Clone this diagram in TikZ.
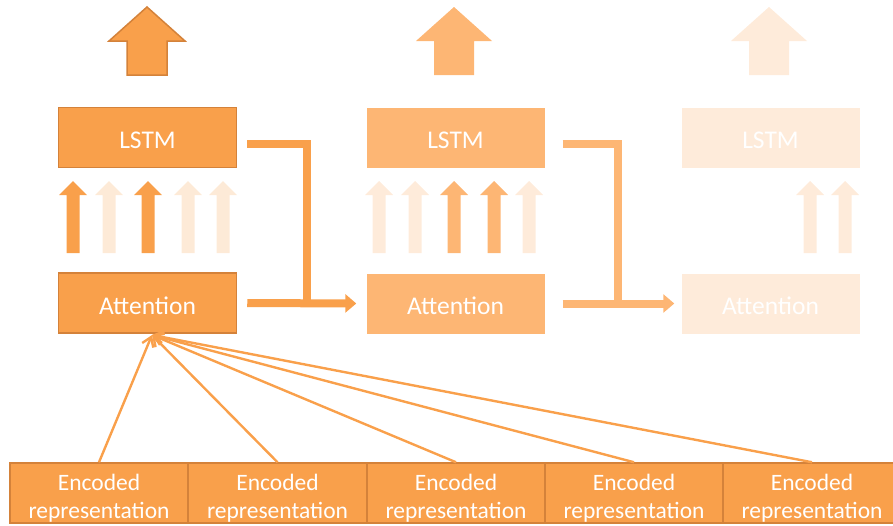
\documentclass[tikz,border=0pt]{standalone}
\usepackage{fontspec}
\setmainfont{Carlito}
\usetikzlibrary{arrows.meta}
\definecolor{oA}{HTML}{F9A04B}
\definecolor{oAd}{HTML}{D4823A}
\definecolor{oB}{HTML}{FDB674}
\definecolor{oC}{HTML}{FEEBDA}
\definecolor{oL}{HTML}{FDEAD7}
\begin{document}
\begin{tikzpicture}[x=1pt,y=-1pt,
  box/.style={minimum width=178pt, minimum height=60pt, inner sep=0pt, text=white,
    text height=22.5pt, text depth=0pt,
    font=\fontsize{25.5}{30}\selectfont},
  boxA/.style={box, fill=oA, draw=oAd, line width=1.5pt},
  boxB/.style={box, fill=oB},
  boxC/.style={box, fill=oC},
  encbox/.style={minimum width=178pt, minimum height=60pt, inner sep=0pt, fill=oA, draw=oAd, line width=1.5pt},
  enctext/.style={text=white, align=center, inner sep=0pt, font=\fontsize{23.5}{28}\selectfont},
  bigarrow/.pic={\path[pic actions] (-20,75) -- (-20,41) -- (-38,41) -- (0,7) -- (38,41) -- (20,41) -- (20,75) -- cycle;},
  smallarrow/.pic={\path[pic actions] (-6.5,253) -- (-6.5,195) -- (-14,195) -- (0,181) -- (14,195) -- (6.5,195) -- (6.5,253) -- cycle;},
  conn/.style={line width=8pt},
  tri/.style={-{Triangle[length=11pt,width=18pt]}},
  att/.style={draw=oA, line width=2.4pt, -{Straight Barb[length=9pt,width=12pt]}}
]
\useasboundingbox (0,0) rectangle (893,525);

% top big arrows
\pic[fill=oA, draw=oAd, line width=1.5pt] at (147,0) {bigarrow};
\pic[fill=oB] at (454,0) {bigarrow};
\pic[fill=oC] at (769,0) {bigarrow};

% LSTM and attention boxes
\node[boxA] (L1) at (147.5,137.5) {LSTM};
\node[boxA] (A1) at (147.5,303) {Attention};
\node[boxB] (L2) at (455.5,137.5) {LSTM};
\node[boxB] (A2) at (455.5,303.5) {Attention};
\node[boxC] (L3) at (770.5,137.5) {LSTM};
\node[boxC] (A3) at (770.5,303.5) {Attention};

% small arrows between attention and LSTM
\pic[fill=oA] at (73,0) {smallarrow};
\pic[fill=oL] at (109,0) {smallarrow};
\pic[fill=oA] at (148,0) {smallarrow};
\pic[fill=oL] at (188,0) {smallarrow};
\pic[fill=oL] at (223,0) {smallarrow};

\pic[fill=oC] at (379,0) {smallarrow};
\pic[fill=oC] at (415,0) {smallarrow};
\pic[fill=oB] at (454,0) {smallarrow};
\pic[fill=oB] at (494,0) {smallarrow};
\pic[fill=oC] at (529,0) {smallarrow};

\pic[fill=oC] at (810,0) {smallarrow};
\pic[fill=oC] at (845,0) {smallarrow};

% recurrent connectors
\coordinate (J1) at (307,303);
\coordinate (J2) at (618,303);
\draw[conn, draw=oA] ([shift={(10pt,-6pt)}]L1.east) -| (J1);
\draw[conn, draw=oA, tri] ([xshift=10pt]A1.east) -- ([xshift=-10pt]A2.west);
\draw[conn, draw=oB] ([shift={(18pt,-6pt)}]L2.east) -| (J2);
\draw[conn, draw=oB, tri] ([xshift=18pt]A2.east) -- ([xshift=-7pt]A3.west);

% encoded representations
\foreach \i/\x in {1/99,2/277.5,3/456,4/634,5/812} {
  \node[encbox] (E\i) at (\x,493) {};
  \node[enctext] (T\i) at (\x,498) {Encoded\\representation};
}

% attention inputs
\coordinate (AT) at (152,335);
\foreach \i in {5,4,3,2,1} {
  \draw[att] (E\i.north) -- (AT);
}
\end{tikzpicture}
\end{document}
